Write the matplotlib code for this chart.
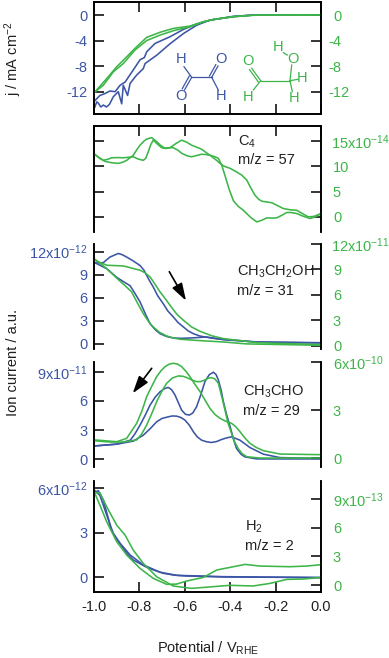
import matplotlib
matplotlib.use('Agg')
import matplotlib.pyplot as plt

plt.rcParams['font.family'] = ['Liberation Sans', 'DejaVu Sans']
plt.rcParams['mathtext.default'] = 'regular'
plt.rcParams['font.size'] = 10.5

BLUE = '#3c55a5'
GREEN = '#3db549'
DARK = '#231f20'
LW = 1.15

# current density, mA/cm2
j_blue_a_x = [-0.996,-0.988,-0.981,-0.97,-0.959,-0.945,-0.932,-0.915,-0.893,-0.878,-0.871,-0.852,-0.841,-0.812,-0.783,-0.775,-0.724,-0.665,-0.606,-0.548,-0.489,-0.386,-0.298,0]
j_blue_a = [-14.4,-13.6,-13.8,-14.4,-14.1,-14.4,-14.0,-12.8,-12.0,-13.9,-11.0,-12.6,-10.7,-9.4,-8.4,-7.6,-6.3,-4.5,-2.9,-1.6,-0.8,-0.26,0,0]
j_blue_b_x = [-0.996,-0.985,-0.974,-0.952,-0.93,-0.907,-0.885,-0.863,-0.827,-0.797,-0.778,-0.768,-0.731,-0.665,-0.606,-0.548,-0.489,-0.386,-0.298,0]
j_blue_b = [-13.4,-13.0,-12.6,-12.3,-11.9,-12.0,-11.0,-10.5,-8.6,-7.0,-6.65,-5.76,-4.45,-3.4,-2.25,-1.4,-0.8,-0.2,0,0]
j_green_a_x = [-0.996,-0.959,-0.915,-0.871,-0.82,-0.768,-0.709,-0.651,-0.577,-0.518,-0.474,-0.386,-0.298,0]
j_green_a = [-12.04,-11.0,-8.9,-7.6,-5.5,-4.0,-3.14,-2.46,-1.83,-1.05,-0.7,-0.26,-0.03,0]
j_green_b_x = [-0.996,-0.944,-0.90,-0.856,-0.82,-0.768,-0.709,-0.651,-0.577,-0.518,-0.474,-0.386,-0.298,0]
j_green_b = [-12.04,-9.95,-8.1,-6.55,-5.24,-3.5,-2.7,-2.1,-1.73,-1.05,-0.7,-0.26,-0.03,0]

# C4, m/z 57 (x1e-14)
c4_a_x = [-0.996,-0.975,-0.952,-0.92,-0.893,-0.875,-0.856,-0.827,-0.81,-0.797,-0.78,-0.768,-0.746,-0.724,-0.705,-0.687,-0.67,-0.651,-0.63,-0.614,-0.59,-0.57,-0.548,-0.526,-0.508,-0.489,-0.46,-0.445,-0.43,-0.40,-0.372,-0.35,-0.327,-0.31,-0.291,-0.275,-0.261,-0.24,-0.217,-0.19,-0.166,-0.136,-0.107,-0.08,-0.056,-0.03,0]
c4_a = [12.36,11.6,11.0,10.7,10.6,10.8,11.2,12.2,13.4,14.2,15.0,15.4,15.7,14.9,14.1,13.6,13.7,13.7,13.2,12.6,12.1,11.9,12.15,12.4,12.35,12.2,11.2,10.6,10.1,9.6,8.9,8.3,7.3,5.8,4.3,3.5,3.1,2.95,2.8,2.2,1.65,1.4,1.3,0.6,0,0.1,0.66]
c4_b_x = [-0.996,-0.98,-0.959,-0.94,-0.922,-0.895,-0.871,-0.827,-0.805,-0.783,-0.772,-0.761,-0.75,-0.739,-0.72,-0.702,-0.685,-0.665,-0.64,-0.614,-0.592,-0.57,-0.548,-0.526,-0.508,-0.489,-0.47,-0.452,-0.437,-0.423,-0.405,-0.386,-0.365,-0.342,-0.31,-0.283,-0.262,-0.239,-0.215,-0.195,-0.173,-0.151,-0.13,-0.107,-0.08,-0.048,-0.02,0]
c4_b = [12.36,11.8,11.2,11.4,11.7,11.75,11.7,11.9,11.45,11.2,11.6,12.9,14.3,15.2,14.4,13.7,13.55,13.7,14.5,15.2,14.8,14.2,13.8,13.4,12.8,12.2,11.95,11.6,10.2,8.2,5.5,3.2,2.1,1.3,-0.1,-1.0,-0.7,-0.2,-0.25,-0.2,0.3,0.86,0.85,0.66,0.15,-0.33,0.1,0.66]

# ethanol, m/z 31
etoh_blue_a_x = [-0.996,-0.959,-0.93,-0.893,-0.875,-0.856,-0.83,-0.797,-0.78,-0.768,-0.755,-0.739,-0.72,-0.695,-0.675,-0.651,-0.63,-0.606,-0.585,-0.562,-0.535,-0.511,-0.47,-0.43,-0.283,0]
etoh_blue_a = [10.53,10.57,11.3,11.77,11.6,11.3,10.85,10.2,9.6,8.93,8.2,7.41,6.3,5.24,4.3,3.53,2.8,2.21,1.7,1.34,1.05,0.91,0.72,0.61,0.26,0.17]
etoh_blue_b_x = [-0.996,-0.944,-0.90,-0.87,-0.841,-0.82,-0.797,-0.775,-0.753,-0.73,-0.709,-0.68,-0.651,-0.615,-0.577,-0.504,-0.43,-0.283,0]
etoh_blue_b = [10.57,9.79,8.67,8.1,7.58,6.6,5.46,4.0,2.64,1.85,1.34,0.98,0.78,0.74,0.78,0.91,0.56,0.26,0.13]
etoh_green_a_x = [-0.996,-0.944,-0.871,-0.797,-0.775,-0.753,-0.73,-0.709,-0.685,-0.665,-0.635,-0.606,-0.57,-0.533,-0.48,-0.43,-0.283,0]
etoh_green_a = [10.08,9.49,9.41,8.90,8.6,8.11,7.2,6.34,5.5,4.76,3.7,2.99,2.2,1.69,1.15,0.83,0.35,0.12]
etoh_green_b_x = [-0.996,-0.944,-0.885,-0.86,-0.834,-0.81,-0.783,-0.76,-0.739,-0.71,-0.68,-0.65,-0.621,-0.533,-0.43,-0.327,0]
etoh_green_b = [10.2,9.09,7.6,7.0,6.34,5.1,3.78,2.85,2.2,1.55,1.14,0.9,0.75,0.59,0.43,0.2,0.04]

# acetaldehyde, m/z 29
acet_blue_a_x = [-0.996,-0.90,-0.84,-0.82,-0.797,-0.775,-0.753,-0.73,-0.709,-0.69,-0.673,-0.658,-0.643,-0.628,-0.614,-0.597,-0.58,-0.565,-0.548,-0.53,-0.511,-0.492,-0.474,-0.462,-0.452,-0.44,-0.43,-0.415,-0.40,-0.385,-0.372,-0.352,-0.335,-0.283,0]
acet_blue_a = [1.37,1.55,1.96,2.6,3.51,4.5,5.57,6.4,6.94,7.25,7.39,7.15,6.60,5.8,5.05,4.62,4.54,4.75,5.40,6.6,8.0,8.7,8.95,8.7,8.14,7.1,5.91,4.5,3.33,2.0,1.10,0.5,0.24,0.03,0.03]
acet_blue_b_x = [-0.996,-0.90,-0.827,-0.783,-0.75,-0.724,-0.70,-0.673,-0.655,-0.636,-0.618,-0.599,-0.58,-0.562,-0.545,-0.526,-0.505,-0.482,-0.46,-0.438,-0.415,-0.394,-0.357,-0.313,-0.254,-0.181,0]
acet_blue_b = [1.37,1.55,1.86,2.47,3.2,3.85,4.2,4.36,4.45,4.43,4.3,4.02,3.5,2.82,2.3,1.96,1.8,1.72,1.82,2.03,2.2,2.30,1.96,1.20,0.52,0.17,0.07]
acet_green_a_x = [-0.996,-0.90,-0.856,-0.812,-0.79,-0.768,-0.745,-0.724,-0.705,-0.687,-0.668,-0.65,-0.632,-0.614,-0.595,-0.577,-0.555,-0.533,-0.51,-0.489,-0.467,-0.445,-0.42,-0.394,-0.375,-0.357,-0.335,-0.313,-0.285,-0.254,-0.181,0]
acet_green_a = [1.13,1.02,1.23,2.17,2.9,3.83,4.5,5.08,5.45,5.71,5.87,5.92,5.87,5.71,5.42,5.08,4.6,4.15,3.6,3.10,2.72,2.48,2.3,2.17,1.95,1.65,1.25,0.92,0.66,0.46,0.25,0.21]
acet_green_b_x = [-0.996,-0.93,-0.871,-0.812,-0.79,-0.768,-0.745,-0.724,-0.70,-0.68,-0.655,-0.628,-0.605,-0.584,-0.565,-0.548,-0.53,-0.511,-0.495,-0.482,-0.468,-0.452,-0.44,-0.423,-0.41,-0.394,-0.38,-0.365,-0.348,-0.327,-0.269,0]
acet_green_b = [1.08,1.0,1.0,1.13,1.5,2.06,2.8,3.52,4.2,4.67,5.0,5.13,5.1,4.98,4.85,4.77,4.78,4.88,5.0,5.02,4.95,4.67,4.0,3.0,2.2,1.54,1.0,0.60,0.28,0.08,0.0,0.0]

# hydrogen, m/z 2
h2_blue_a_x = [-0.996,-0.981,-0.959,-0.937,-0.925,-0.907,-0.871,-0.85,-0.827,-0.768,-0.73,-0.695,-0.65,-0.60,-0.43,0]
h2_blue_a = [5.70,5.82,5.19,3.96,3.2,2.73,1.95,1.5,1.16,0.67,0.45,0.27,0.15,0.09,0.02,-0.02]
h2_blue_b_x = [-0.996,-0.974,-0.944,-0.915,-0.885,-0.841,-0.783,-0.709,-0.636,-0.43,0]
h2_blue_b = [5.82,5.5,4.18,2.95,2.28,1.5,0.83,0.34,0.13,0.04,-0.02]
h2_green_a_x = [-0.996,-0.974,-0.944,-0.90,-0.856,-0.797,-0.739,-0.68,-0.636,-0.592,-0.518,-0.46,-0.401,-0.335,-0.269,-0.137,-0.063,0]
h2_green_a = [9.59,8.37,6.63,4.54,3.14,1.74,0.70,0.07,0.10,0.42,0.80,1.57,1.85,2.16,1.99,1.92,1.99,2.13]
h2_green_b_x = [-0.996,-0.974,-0.944,-0.90,-0.863,-0.827,-0.783,-0.724,-0.651,-0.57,-0.474,-0.401,-0.299,-0.225,-0.151,-0.078,0]
h2_green_b = [9.66,9.66,8.19,6.28,5.23,3.66,2.27,0.87,-0.10,-0.35,-0.17,-0.03,-0.10,0.17,0.59,0.63,0.80]

x_ticks = [-1.0, -0.8, -0.6, -0.4, -0.2, 0.0]
x_labels = ['-1.0', '-0.8', '-0.6', '-0.4', '-0.2', '0.0']

W, H = 389, 658
fig = plt.figure(figsize=(W / 100, H / 100), dpi=100)


def panel(top, bottom, ylim_l, ylim_r, ticks_l, labels_l, ticks_r, labels_r):
    ax = fig.add_axes([94 / W, 1 - bottom / H, 227 / W, (bottom - top) / H])
    ax2 = ax.twinx()
    ax.set_xlim(-1, 0)
    ax.set_ylim(*ylim_l)
    ax2.set_ylim(*ylim_r)
    ax.set_xticks(x_ticks)
    ax.set_xticklabels([])
    ax.set_yticks(ticks_l)
    ax.set_yticklabels(labels_l, color=BLUE)
    ax2.set_yticks(ticks_r)
    ax2.set_yticklabels(labels_r, color=GREEN, ha='left')
    ax.tick_params(axis='y', direction='in', length=7.5, width=1.1, pad=4.5)
    ax.tick_params(axis='x', direction='in', length=7.5, width=1.1, top=False, bottom=False)
    ax2.tick_params(axis='y', direction='in', length=7.5, width=1.1, pad=8.6)
    for a in (ax, ax2):
        for s in a.spines.values():
            s.set_linewidth(1.2)
            s.set_visible(False)
        a.spines['left'].set_visible(True)
        a.spines['right'].set_visible(True)
    return ax, ax2


# top panel: current
ax, ax2 = panel(2, 114, (-15.5, 2.04), (-15.5, 2.04),
                [-12, -8, -4, 0], ['-12', '-8', '-4', '0'],
                [-12, -8, -4, 0], ['-12', '-8', '-4', '0'])
ax.plot(j_blue_a_x, j_blue_a, color=BLUE, lw=LW)
ax.plot(j_blue_b_x, j_blue_b, color=BLUE, lw=LW)
ax2.plot(j_green_a_x, j_green_a, color=GREEN, lw=LW)
ax2.plot(j_green_b_x, j_green_b, color=GREEN, lw=LW)
for a in (ax, ax2):
    a.spines['top'].set_visible(True)
    a.spines['bottom'].set_visible(True)
ax.tick_params(axis='x', top=True, bottom=True)
# negative labels start further left on this axis
for t in ax2.yaxis.get_major_ticks()[:3]:
    t.set_pad(5)

# C4
ax, ax2 = panel(126, 232, (-3, 18), (-3, 18),
                [0, 5, 10, 15], ['', '', '', ''],
                [0, 5, 10, 15], ['0', '5', '10', '15x10$^{-14}$'])
ax2.plot(c4_a_x, c4_a, color=GREEN, lw=LW)
ax2.plot(c4_b_x, c4_b, color=GREEN, lw=LW)
for a in (ax, ax2):
    a.spines['top'].set_visible(True)
ax.tick_params(axis='x', top=True)
ax2.yaxis.get_major_ticks()[3].set_pad(7)  # keeps the long label inside the figure

# ethanol
ax, ax2 = panel(244, 349, (-0.65, 13), (-0.4, 12),
                [0, 3, 6, 9, 12], ['0', '3', '6', '9', '12x10$^{-12}$'],
                [0, 3, 6, 9, 12], ['0', '3', '6', '9', '12x10$^{-11}$'])
ax.plot(etoh_blue_a_x, etoh_blue_a, color=BLUE, lw=LW)
ax.plot(etoh_blue_b_x, etoh_blue_b, color=BLUE, lw=LW)
ax2.plot(etoh_green_a_x, etoh_green_a, color=GREEN, lw=LW)
ax2.plot(etoh_green_b_x, etoh_green_b, color=GREEN, lw=LW)
ax2.yaxis.get_major_ticks()[4].set_pad(7)

# acetaldehyde
ax, ax2 = panel(362, 467, (-0.8, 10), (-0.56, 6),
                [0, 3, 6, 9], ['0', '3', '6', '9x10$^{-11}$'],
                [0, 3, 6], ['0', '3', '6x10$^{-10}$'])
ax.plot(acet_blue_a_x, acet_blue_a, color=BLUE, lw=LW)
ax.plot(acet_blue_b_x, acet_blue_b, color=BLUE, lw=LW)
ax2.plot(acet_green_a_x, acet_green_a, color=GREEN, lw=LW)
ax2.plot(acet_green_b_x, acet_green_b, color=GREEN, lw=LW)

# hydrogen
ax, ax2 = panel(481, 592, (-0.99, 6.47), (-0.73, 10.9),
                [0, 3, 6], ['0', '3', '6x10$^{-12}$'],
                [0, 3, 6, 9], ['0', '3', '6', '9x10$^{-13}$'])
ax.plot(h2_blue_a_x, h2_blue_a, color=BLUE, lw=LW)
ax.plot(h2_blue_b_x, h2_blue_b, color=BLUE, lw=LW)
ax2.plot(h2_green_a_x, h2_green_a, color=GREEN, lw=LW)
ax2.plot(h2_green_b_x, h2_green_b, color=GREEN, lw=LW)
for a in (ax, ax2):
    a.spines['bottom'].set_visible(True)
ax.tick_params(axis='x', bottom=True, labelbottom=True, pad=5.5, labelcolor=DARK)
ax.set_xticklabels(x_labels)

# overlay in pixel coords for labels, arrows and the two molecules
ov = fig.add_axes([0, 0, 1, 1], facecolor='none')
ov.set_xlim(0, W)
ov.set_ylim(H, 0)
ov.axis('off')


def note(x, y, s, **kw):
    kw.setdefault('color', DARK)
    kw.setdefault('va', 'center')
    ov.text(x, y, s, **kw)


note(238, 142, 'C$_4$')
note(238, 160, 'm/z = 57')
note(237, 272, 'CH$_3$CH$_2$OH')
note(237, 291, 'm/z = 31')
note(243.5, 392, 'CH$_3$CHO')
note(243.5, 411, 'm/z = 29')
note(245, 527, 'H$_2$')
note(245, 546, 'm/z = 2')

note(13, 59, 'j / mA cm$^{-2}$', rotation=90, ha='center')
note(13, 362, 'Ion current / a.u.', rotation=90, ha='center')
note(207.7, 648, 'Potential / V$_{RHE}$', ha='center')

arrow = dict(arrowstyle='-|>,head_width=0.32,head_length=1.0', color='black', lw=1.2, shrinkA=0, shrinkB=0)
ov.annotate('', xy=(186, 300.7), xytext=(169.3, 271.7), arrowprops=arrow)
ov.annotate('', xy=(132.7, 393.3), xytext=(151.7, 368.3), arrowprops=arrow)


def bond(p, q, color):
    ov.plot([p[0], q[0]], [p[1], q[1]], color=color, lw=0.9)


# glyoxal
for x, y, s in [(181.3, 59, 'H'), (221, 59, 'O'), (181, 96, 'O'), (221, 96, 'H')]:
    note(x, y, s, color=BLUE, ha='center')
bond((184, 66.7), (191.7, 77.3), BLUE)
bond((191.7, 77.3), (211.7, 77.3), BLUE)
bond((211.7, 77.3), (218, 66), BLUE)
bond((209.5, 76), (215.8, 64.7), BLUE)
bond((191.7, 77.3), (184.5, 90), BLUE)
bond((189.3, 76), (182.2, 88.8), BLUE)
bond((211.7, 77.3), (218.3, 90), BLUE)

# glycolaldehyde
for x, y, s in [(248, 60.7, 'O'), (277.7, 47.3, 'H'), (293, 59.3, 'O'),
                (302.3, 77.7, 'H'), (293.7, 98.3, 'H'), (248, 96.7, 'H')]:
    note(x, y, s, color=GREEN, ha='center')
bond((260.7, 80.7), (251.7, 68.3), GREEN)
bond((258.4, 82), (249.5, 69.7), GREEN)
bond((260.7, 80.7), (253.3, 90), GREEN)
bond((260.7, 80.7), (290, 80.7), GREEN)
bond((290, 80.7), (291.7, 65), GREEN)
bond((290, 80.7), (298, 79.3), GREEN)
bond((290, 80.7), (292.3, 91.7), GREEN)
bond((283.3, 52.7), (287.3, 55), GREEN)

fig.savefig('out.png', dpi=100)
